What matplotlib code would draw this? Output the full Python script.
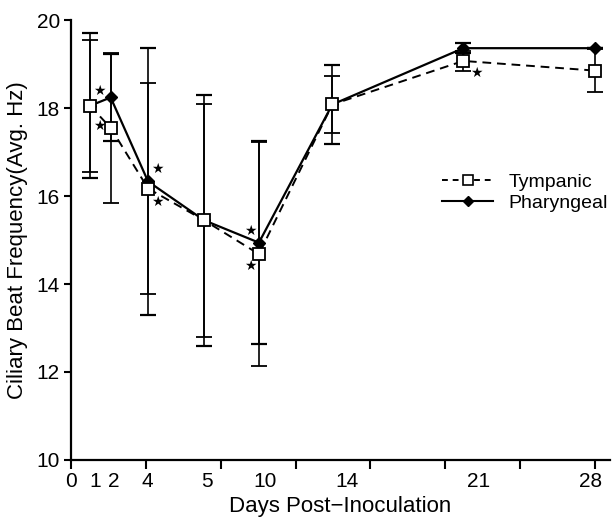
import matplotlib
matplotlib.use("Agg")
import matplotlib.pyplot as plt
from matplotlib.lines import Line2D

plt.rcParams['font.family'] = ['Liberation Sans', 'DejaVu Sans']

# data
days = ['1', '2', '4', '5', '10', '14', '21', '28']
tick_days = ['0', '1', '2', '4', '5', '10', '14', '21', '28']
# the original axis is not linear in days: positions in axis units
x_pos = [0.254, 0.53, 1.03, 1.776, 2.51, 3.49, 5.24, 7.0]
label_pos = [0.0, 0.33, 0.578, 1.024, 1.812, 2.59, 3.69, 5.447, 6.942]

tympanic = [18.05, 17.55, 16.17, 15.45, 14.68, 18.08, 19.07, 18.85]
tympanic_err = [1.5, 1.7, 2.4, 2.65, 2.55, 0.65, 0.22, 0.48]
pharyngeal = [18.05, 18.24, 16.33, 15.45, 14.94, 18.08, 19.36, 19.36]
pharyngeal_err = [1.65, 0.99, 3.03, 2.85, 2.3, 0.9, 0.12, 0.0]

# significance stars: (series, point index, offset in points)
stars = [('phar', 1, -8, 4.8), ('tymp', 1, -8.2, 1.2),
         ('phar', 2, 6.5, 9.1), ('tymp', 2, 6.5, -10),
         ('phar', 4, -6.5, 8.6), ('tymp', 4, -6.5, -8.6),
         ('tymp', 6, 9.6, -8.4)]

fig = plt.figure(figsize=(6.15, 5.2), dpi=100)
ax = fig.add_axes([0.1154, 0.1154, 0.9920 - 0.1154, 0.9615 - 0.1154])

# pharyngeal: solid line, filled diamonds
ax.errorbar(x_pos, pharyngeal, yerr=pharyngeal_err, color='black', lw=1.6,
            marker='D', ms=6.5, mfc='black', mec='black',
            elinewidth=1.2, capsize=6, capthick=1.6, zorder=2)
# tympanic: dashed line, open squares (drawn on top)
ax.errorbar(x_pos, tympanic, yerr=tympanic_err, color='black', lw=1.4,
            dashes=(4.5, 3), marker='s', ms=8.5, mfc='white', mec='black',
            mew=1.3, elinewidth=1.2, capsize=6, capthick=1.6, zorder=3)

series = {'tymp': tympanic, 'phar': pharyngeal}
for name, i, dx, dy in stars:
    ax.annotate('\u2605', xy=(x_pos[i], series[name][i]), xytext=(dx, dy),
                textcoords='offset points', ha='center', va='center',
                fontsize=10, family='DejaVu Sans')

ax.set_xlim(0, 7.2)
ax.set_ylim(10, 20)

# evenly spaced unlabeled ticks, labels sit at their own positions
ax.xaxis.remove_overlapping_locs = False
ax.set_xticks(range(8))
ax.set_xticklabels([''] * 8)
ax.set_xticks(label_pos, minor=True)
ax.set_xticklabels(tick_days, minor=True)
ax.tick_params(axis='x', which='major', direction='out', length=6.5, width=1.5)
ax.tick_params(axis='x', which='minor', length=0, pad=9, labelsize=15)

ax.set_yticks([10, 12, 14, 16, 18, 20])
ax.tick_params(axis='y', direction='out', length=5, width=1.5, pad=3, labelsize=15)

for s in ['top', 'right']:
    ax.spines[s].set_visible(False)
for s in ['left', 'bottom']:
    ax.spines[s].set_linewidth(1.6)

ax.set_xlabel('Days Post\u2212Inoculation', fontsize=16, labelpad=3)
ax.set_ylabel('Ciliary Beat Frequency(Avg. Hz)', fontsize=16, labelpad=6)

handles = [
    Line2D([], [], color='black', lw=1.4, dashes=(3, 2.5), marker='s', ms=7,
           mfc='white', mec='black', mew=1.2),
    Line2D([], [], color='black', lw=1.5, marker='D', ms=5.5, mfc='black'),
]
ax.legend(handles, ['Tympanic', 'Pharyngeal'], loc='upper left',
          bbox_to_anchor=(0.689, 0.651), frameon=False, fontsize=14,
          handlelength=2.6, handletextpad=0.8, labelspacing=0.15,
          borderpad=0, borderaxespad=0)

fig.savefig('out.png', dpi=100)
